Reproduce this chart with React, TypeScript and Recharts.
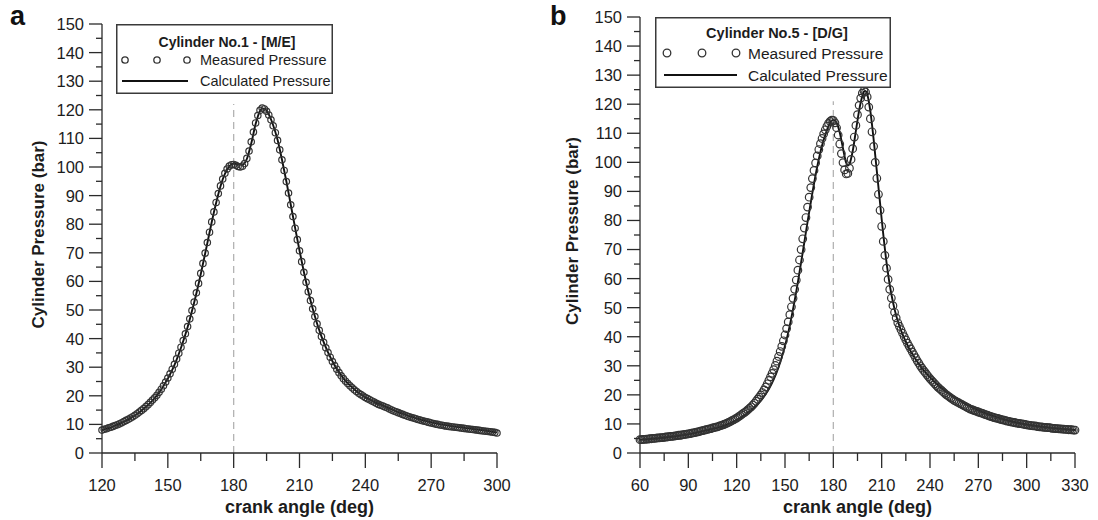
import { LineChart, Line, XAxis, YAxis, ReferenceLine, Legend } from "recharts";

const FONT = '"Liberation Sans", Arial, Helvetica, sans-serif';
const INK = "#1c1c1c";
const AXIS = "#2a2a2a";

// ---- panel a: cylinder no.1, main engine ----
const angleStartA = 120;
// measured pressure (bar), one sample per degree from 120 to 300
const measuredA = [
  8.0, 8.3, 8.5, 8.8, 9.0, 9.3, 9.6, 9.9, 10.2, 10.6,
  11.0, 11.4, 11.8, 12.2, 12.7, 13.2, 13.7, 14.3, 14.9, 15.5,
  16.2, 16.9, 17.7, 18.5, 19.3, 20.2, 21.2, 22.3, 23.5, 24.8,
  26.2, 27.7, 29.3, 31.0, 32.9, 34.9, 37.0, 39.3, 41.7, 44.2,
  46.9, 49.8, 52.8, 56.0, 59.3, 62.8, 66.3, 69.9, 73.6, 77.2,
  80.8, 84.3, 87.6, 90.7, 93.4, 95.8, 97.8, 99.3, 100.3, 100.8,
  100.9, 100.6, 100.2, 100.0, 100.3, 101.2, 103.0, 105.6, 108.8, 112.2,
  115.4, 118.0, 119.8, 120.6, 120.3, 119.5, 118.2, 116.5, 114.4, 112.0,
  109.3, 106.0, 102.5, 98.8, 94.9, 90.9, 86.8, 82.7, 78.6, 74.6,
  70.7, 66.9, 63.2, 59.7, 56.4, 53.3, 50.4, 47.7, 45.2, 42.9,
  40.7, 38.7, 36.8, 35.1, 33.5, 32.0, 30.6, 29.3, 28.1, 27.0,
  26.0, 25.1, 24.3, 23.5, 22.8, 22.1, 21.5, 20.9, 20.4, 19.9,
  19.4, 19.0, 18.6, 18.2, 17.8, 17.4, 17.0, 16.7, 16.4, 16.1,
  15.8, 15.4, 15.0, 14.7, 14.4, 14.1, 13.8, 13.5, 13.2, 12.9,
  12.7, 12.4, 12.2, 12.0, 11.7, 11.5, 11.3, 11.1, 10.9, 10.7,
  10.5, 10.3, 10.1, 10.0, 9.8, 9.7, 9.5, 9.4, 9.3, 9.2,
  9.1, 9.0, 8.9, 8.8, 8.7, 8.6, 8.5, 8.4, 8.3, 8.2,
  8.1, 8.0, 7.9, 7.8, 7.7, 7.6, 7.5, 7.4, 7.3, 7.2,
  7.0,
];
const calcAngleA = [
  120, 125, 130, 135, 140, 145, 150, 153, 156, 159, 162, 165, 168, 171, 174, 176, 178, 180,
  182, 184, 186, 188, 190, 192, 193, 194, 196, 198, 200, 202, 204, 206, 208, 210, 212, 214,
  216, 218, 220, 223, 226, 230, 235, 240, 245, 250, 255, 260, 265, 270, 275, 280, 285, 290, 295, 300,
];
const calcPressureA = [
  8.0, 9.2, 10.9, 13.1, 16.1, 20.1, 26.0, 30.7, 36.8, 44.0, 52.6, 62.5, 73.4, 84.2, 93.3, 97.6, 100.2, 101.2,
  100.9, 100.8, 102.8, 108.2, 115.0, 119.6, 120.4, 120.4, 118.4, 114.6, 109.5, 102.6, 95.0, 86.9, 78.7, 70.8, 63.3, 56.5,
  50.5, 45.3, 40.8, 35.2, 30.7, 26.1, 22.2, 19.5, 17.5, 15.9, 14.3, 12.9, 11.7, 10.7, 9.9, 9.3, 8.8, 8.3, 7.8, 7.2,
];
const xTicksA = [120, 135, 150, 165, 180, 195, 210, 225, 240, 255, 270, 285, 300];

// ---- panel b: cylinder no.5, diesel generator ----
const angleStartB = 60;
// measured pressure (bar), one sample per degree from 60 to 330
const measuredB = [
  4.6, 4.6, 4.7, 4.7, 4.8, 4.8, 4.9, 4.9, 5.0, 5.0,
  5.1, 5.2, 5.2, 5.3, 5.3, 5.4, 5.5, 5.5, 5.6, 5.7,
  5.7, 5.8, 5.9, 6.0, 6.1, 6.1, 6.2, 6.3, 6.4, 6.5,
  6.6, 6.7, 6.8, 6.9, 7.0, 7.2, 7.3, 7.4, 7.6, 7.7,
  7.9, 8.0, 8.1, 8.3, 8.4, 8.6, 8.7, 8.9, 9.0, 9.2,
  9.4, 9.6, 9.8, 10.0, 10.3, 10.5, 10.8, 11.1, 11.4, 11.7,
  12.0, 12.4, 12.8, 13.2, 13.6, 14.0, 14.4, 14.9, 15.4, 15.9,
  16.5, 17.1, 17.8, 18.5, 19.2, 20.0, 20.8, 21.7, 22.7, 23.8,
  25.0, 26.2, 27.4, 28.7, 30.1, 31.6, 33.2, 34.9, 36.7, 38.6,
  40.6, 42.8, 45.1, 47.6, 50.3, 53.2, 56.3, 59.5, 62.9, 66.4,
  70.0, 73.7, 77.4, 81.0, 84.6, 88.0, 91.3, 94.4, 97.2, 99.8,
  102.2, 104.4, 106.4, 108.2, 109.8, 111.2, 112.4, 113.4, 114.1, 114.5,
  114.4, 113.6, 111.9, 109.4, 106.3, 103.0, 99.9, 97.4, 96.0, 96.2,
  98.0, 101.0, 104.7, 108.7, 112.7, 116.4, 119.6, 122.1, 123.8, 124.6,
  124.2, 122.5, 119.0, 115.0, 110.5, 105.5, 100.0, 94.5, 89.0, 83.5,
  78.0, 72.8, 68.0, 63.6, 59.7, 56.3, 53.3, 50.7, 48.4, 46.5,
  44.8, 43.6, 42.4, 41.2, 40.0, 38.9, 37.8, 36.8, 35.8, 34.8,
  33.8, 32.8, 31.8, 30.9, 30.0, 29.2, 28.4, 27.7, 27.0, 26.3,
  25.6, 25.0, 24.4, 23.8, 23.2, 22.6, 22.1, 21.6, 21.1, 20.6,
  20.1, 19.7, 19.3, 18.9, 18.5, 18.1, 17.8, 17.5, 17.2, 16.9,
  16.6, 16.3, 16.0, 15.7, 15.4, 15.1, 14.9, 14.7, 14.5, 14.3,
  14.1, 13.9, 13.7, 13.5, 13.3, 13.1, 12.9, 12.7, 12.5, 12.3,
  12.2, 12.0, 11.9, 11.7, 11.6, 11.4, 11.3, 11.1, 11.0, 10.9,
  10.7, 10.6, 10.5, 10.4, 10.3, 10.2, 10.1, 10.0, 9.9, 9.8,
  9.7, 9.6, 9.5, 9.4, 9.3, 9.3, 9.2, 9.1, 9.0, 9.0,
  8.9, 8.8, 8.8, 8.7, 8.7, 8.6, 8.5, 8.5, 8.4, 8.4,
  8.3, 8.3, 8.2, 8.2, 8.1, 8.1, 8.0, 8.0, 8.0, 7.9,
  7.9,
];
const calcAngleB = [
  60, 70, 80, 90, 100, 110, 115, 120, 125, 130, 135, 140, 143, 146, 149, 152, 155, 158, 161, 164,
  167, 170, 173, 176, 178, 180, 182, 184, 186, 188, 189, 190, 192, 194, 196, 198, 199, 200, 201, 202,
  203, 204, 205, 206, 207, 208, 209, 210, 211, 212, 213, 214, 215, 216, 218, 220, 222, 224, 227, 230,
  234, 238, 242, 246, 250, 255, 260, 265, 270, 280, 290, 300, 310, 320, 330,
];
const calcPressureB = [
  4.5, 5.0, 5.6, 6.4, 7.6, 9.0, 10.0, 11.3, 13.0, 15.2, 18.0, 22.0, 25.3, 29.5, 34.8, 41.4, 49.5, 58.8, 69.0, 79.5,
  89.5, 98.5, 105.8, 111.0, 113.6, 114.6, 113.6, 110.2, 104.8, 99.8, 98.9, 99.4, 103.8, 110.8, 117.8, 122.8, 124.3, 124.6, 123.6, 121.0,
  117.5, 113.0, 108.0, 102.5, 97.0, 91.5, 86.0, 80.5, 75.2, 70.2, 65.6, 61.5, 57.9, 54.7, 49.5, 45.4, 42.2, 39.5, 36.0, 33.2,
  29.9, 27.2, 24.9, 22.9, 21.1, 19.2, 17.5, 16.0, 14.7, 12.6, 11.0, 9.8, 9.0, 8.4, 7.9,
];
const xTicksB = [60, 75, 90, 105, 120, 135, 150, 165, 180, 195, 210, 225, 240, 255, 270, 285, 300, 315, 330];

const yTicks = [
  0, 5, 10, 15, 20, 25, 30, 35, 40, 45, 50, 55, 60, 65, 70, 75,
  80, 85, 90, 95, 100, 105, 110, 115, 120, 125, 130, 135, 140, 145, 150,
];

type Pt = { angle: number; p: number };

const sampled = (start: number, values: number[]): Pt[] =>
  values.map((p, i) => ({ angle: start + i, p }));
const paired = (angles: number[], values: number[]): Pt[] =>
  angles.map((angle, i) => ({ angle, p: values[i] }));

function XTick({ x, y, payload, fontSize }: any) {
  const major = payload.value % 30 === 0;
  return (
    <g>
      <line x1={x} x2={x} y1={y} y2={y + (major ? 15 : 8)} stroke={AXIS} strokeWidth={1.3} />
      {major && (
        <text x={x} y={y + 38} textAnchor="middle" fontSize={fontSize} fontFamily={FONT} fill={INK}>
          {payload.value}
        </text>
      )}
    </g>
  );
}

function YTick({ x, y, payload, fontSize }: any) {
  const major = payload.value % 10 === 0;
  return (
    <g>
      <line x1={x} x2={x - (major ? 13 : 6)} y1={y} y2={y} stroke={AXIS} strokeWidth={1.3} />
      {major && (
        <text x={x - 18} y={y} dy="0.36em" textAnchor="end" fontSize={fontSize} fontFamily={FONT} fill={INK}>
          {payload.value}
        </text>
      )}
    </g>
  );
}

type LegendSpec = {
  left: number; top: number; width: number; height: number;
  title: string; titleSize: number; textSize: number; titleX: number;
  dots: number[]; textX: number; row1: number; row2: number; titleY: number; r: number;
};

function LegendBox({ spec }: { spec: LegendSpec }) {
  const s = spec;
  return (
    <svg width={s.width} height={s.height} style={{ display: "block" }}>
      <rect x={0.75} y={0.75} width={s.width - 1.5} height={s.height - 1.5} fill="#fff" stroke="#3a3a3a" strokeWidth={1.5} />
      <text x={s.titleX} y={s.titleY} dy="0.36em" textAnchor="middle" fontSize={s.titleSize} fontWeight="bold" fontFamily={FONT} fill={INK}>
        {s.title}
      </text>
      {s.dots.map((cx) => (
        <circle key={cx} cx={cx} cy={s.row1} r={s.r} fill="none" stroke="#333" strokeWidth={1.3} />
      ))}
      <text x={s.textX} y={s.row1} dy="0.36em" fontSize={s.textSize} fontFamily={FONT} fill={INK}>Measured Pressure</text>
      <line x1={s.dots[0] - 3} x2={s.dots[2] + 1} y1={s.row2} y2={s.row2} stroke="#111" strokeWidth={2.2} />
      <text x={s.textX} y={s.row2} dy="0.36em" fontSize={s.textSize} fontFamily={FONT} fill={INK}>Calculated Pressure</text>
    </svg>
  );
}

type PanelProps = {
  left: number; width: number; top: number; right: number; yAxisWidth: number;
  domain: [number, number]; xTicks: number[];
  measured: Pt[]; calculated: Pt[];
  letter: string; legend: LegendSpec;
  tickSize: number; dotR: number; yTitleX: number; dashTop: number;
};

function Panel(props: PanelProps) {
  const { left, width, top, right, yAxisWidth, domain, xTicks, measured, calculated, letter, legend, tickSize, dotR, yTitleX, dashTop } = props;
  return (
    <div style={{ position: "absolute", left, top: 0, width, height: 520 }}>
      <LineChart width={width} height={520} margin={{ top, right, bottom: 7, left: 0 }}>
        <XAxis
          type="number"
          dataKey="angle"
          domain={domain}
          ticks={xTicks}
          interval={0}
          tickSize={0}
          tickMargin={0}
          tickLine={false}
          height={60}
          axisLine={{ stroke: AXIS, strokeWidth: 1.3 }}
          tick={(p: any) => <XTick {...p} fontSize={tickSize} />}
          label={{
            content: ({ viewBox }: any) => (
              <text x={viewBox.x + viewBox.width / 2} y={viewBox.y + 60} textAnchor="middle" fontSize={18} fontWeight="bold" fontFamily={FONT} fill={INK}>
                crank angle (deg)
              </text>
            ),
          }}
        />
        <YAxis
          type="number"
          dataKey="p"
          domain={[0, 150]}
          ticks={yTicks}
          interval={0}
          tickSize={0}
          tickMargin={0}
          tickLine={false}
          width={yAxisWidth}
          axisLine={{ stroke: AXIS, strokeWidth: 1.3 }}
          tick={(p: any) => <YTick {...p} fontSize={tickSize} />}
          label={{
            content: ({ viewBox }: any) => {
              const cx = viewBox.x + yTitleX;
              const cy = viewBox.y + viewBox.height / 2 - 4;
              return (
                <text x={cx} y={cy} dy="0.36em" textAnchor="middle" transform={`rotate(-90 ${cx} ${cy})`} fontSize={17} fontWeight="bold" fontFamily={FONT} fill={INK}>
                  Cylinder Pressure (bar)
                </text>
              );
            },
          }}
        />
        <ReferenceLine
          segment={[{ x: 180, y: 0 }, { x: 180, y: dashTop }]}
          stroke="#b4b4b4"
          strokeWidth={1.3}
          strokeDasharray="7 5"
        />
        <Line
          data={measured}
          dataKey="p"
          name="Measured Pressure"
          stroke="none"
          dot={{ r: dotR, fill: "none", stroke: "#333", strokeWidth: 1.2 }}
          activeDot={false}
          isAnimationActive={false}
        />
        <Line
          data={calculated}
          dataKey="p"
          name="Calculated Pressure"
          type="monotone"
          stroke="#111"
          strokeWidth={1.9}
          dot={false}
          activeDot={false}
          isAnimationActive={false}
        />
        <Legend
          layout="horizontal"
          verticalAlign="middle"
          align="center"
          wrapperStyle={{ left: legend.left, top: legend.top, width: legend.width, height: legend.height }}
          content={() => <LegendBox spec={legend} />}
        />
      </LineChart>
      <div style={{ position: "absolute", left: 10, top: 0, fontFamily: FONT, fontWeight: "bold", fontSize: 27, color: "#111", lineHeight: "32px" }}>
        {letter}
      </div>
    </div>
  );
}

export default function App() {
  return (
    <div style={{ position: "absolute", left: 0, top: 0, width: 1098, height: 520, background: "#fff", overflow: "hidden" }}>
      <Panel
        left={0}
        width={540}
        top={24}
        right={43}
        yAxisWidth={102}
        domain={[120, 300]}
        xTicks={xTicksA}
        measured={sampled(angleStartA, measuredA)}
        calculated={paired(calcAngleA, calcPressureA)}
        letter="a"
        tickSize={16.5}
        dotR={3.2}
        yTitleX={38}
        dashTop={122}
        legend={{
          left: 116, top: 24, width: 217, height: 70,
          title: "Cylinder No.1 - [M/E]", titleSize: 14, textSize: 14.5, titleX: 111, titleY: 18,
          dots: [9, 41, 71], textX: 84, row1: 36, row2: 57, r: 3.2,
        }}
      />
      <Panel
        left={540}
        width={558}
        top={17}
        right={23}
        yAxisWidth={100}
        domain={[60, 330]}
        xTicks={xTicksB}
        measured={sampled(angleStartB, measuredB)}
        calculated={paired(calcAngleB, calcPressureB)}
        letter="b"
        tickSize={16.5}
        dotR={3.8}
        yTitleX={32}
        dashTop={121}
        legend={{
          left: 115, top: 17, width: 236, height: 71,
          title: "Cylinder No.5 - [D/G]", titleSize: 14.5, textSize: 15.5, titleX: 122, titleY: 16,
          dots: [12, 47, 81], textX: 93, row1: 36, row2: 58, r: 3.8,
        }}
      />
    </div>
  );
}
